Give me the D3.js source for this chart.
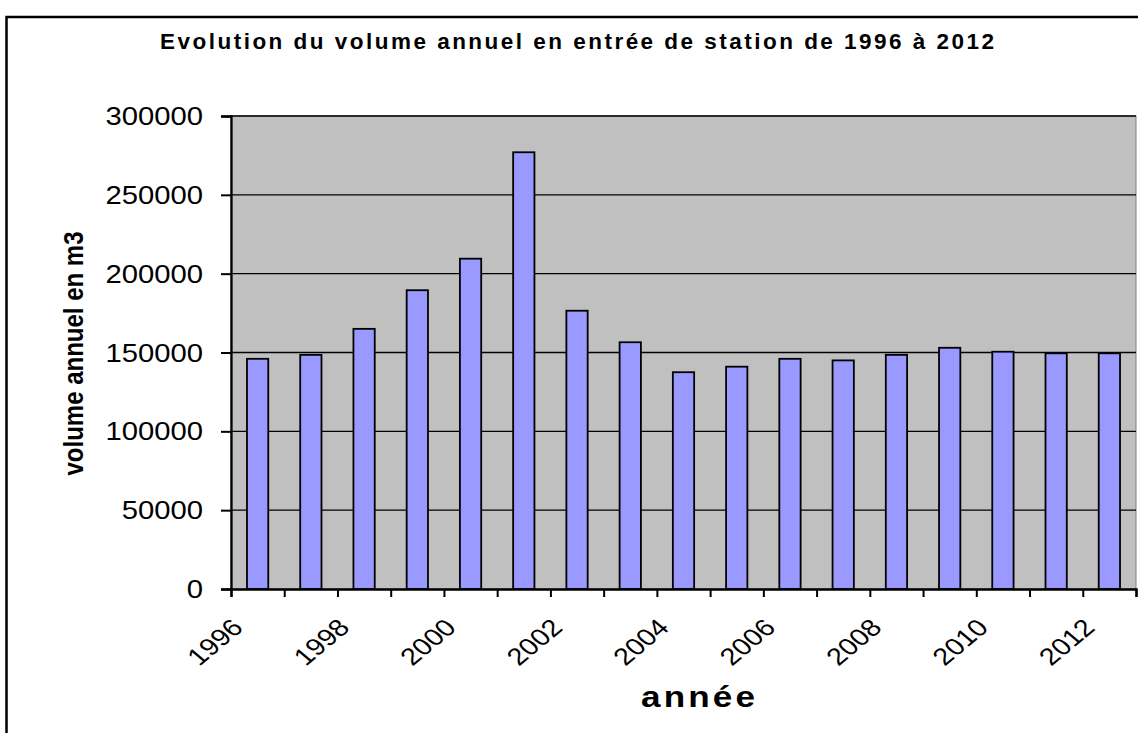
<!DOCTYPE html>
<html>
<head>
<meta charset="utf-8">
<script src="https://cdnjs.cloudflare.com/ajax/libs/d3/7.8.5/d3.min.js"></script>
<style>
  body { margin: 0; background: #fff; }
  svg { display: block; }
  text { font-family: 'Liberation Sans', Arial, sans-serif; fill: #000; }
</style>
</head>
<body>
<svg id="chart" width="1138" height="733"></svg>
<script>
'use strict';

var years = ['1996', '1997', '1998', '1999', '2000', '2001', '2002', '2003', '2004',
	'2005', '2006', '2007', '2008', '2009', '2010', '2011', '2012'];
var volumes = [146000, 148500, 165000, 189500, 209500, 277000, 176500, 156500, 137500,
	141000, 146000, 145000, 148500, 153000, 150500, 149500, 149500];
var yTicks = [0, 50000, 100000, 150000, 200000, 250000, 300000];
var xLabels = ['1996', '1998', '2000', '2002', '2004', '2006', '2008', '2010', '2012'];

var title = 'Evolution du volume annuel en entrée de station de 1996 à 2012';
var xTitle = 'année';
var yTitle = 'volume annuel en m3';

// the original picture is stretched horizontally
var sx = 1.17;

var svg = d3.select('#chart');

var plotLeft = 231, plotRight = 1136, plotTop = 116, plotBottom = 589;

var x = d3.scaleBand()
	.domain(years)
	.range([plotLeft, plotRight])
	.paddingInner(0)
	.paddingOuter(0);

var y = d3.scaleLinear()
	.domain([0, 300000])
	.range([plotBottom, plotTop]);

// outer frame
svg.append('rect')
	.attr('x', 6.5)
	.attr('y', 17)
	.attr('width', 1160)
	.attr('height', 760)
	.attr('fill', 'none')
	.attr('stroke', '#000')
	.attr('stroke-width', 2.5);

// plot area
svg.append('rect')
	.attr('x', plotLeft)
	.attr('y', plotTop)
	.attr('width', plotRight - plotLeft)
	.attr('height', plotBottom - plotTop)
	.attr('fill', '#c0c0c0')
	.attr('stroke', '#808080')
	.attr('stroke-width', 1);

// gridlines
svg.append('g')
	.selectAll('line')
	.data(yTicks.filter(function (d) { return d > 0; }))
	.enter()
	.append('line')
	.attr('x1', plotLeft)
	.attr('x2', plotRight)
	.attr('y1', function (d) { return y(d); })
	.attr('y2', function (d) { return y(d); })
	.attr('stroke', '#000')
	.attr('stroke-width', 1.3);

// bars
var bw = x.bandwidth() / 2.5;
svg.append('g')
	.selectAll('rect')
	.data(volumes)
	.enter()
	.append('rect')
	.attr('x', function (d, i) { return x(years[i]) + x.bandwidth() / 2 - bw / 2; })
	.attr('y', function (d) { return y(d); })
	.attr('width', bw)
	.attr('height', function (d) { return y(0) - y(d); })
	.attr('fill', '#9999ff')
	.attr('stroke', '#000')
	.attr('stroke-width', 1.8);

// y axis
var yAxis = d3.axisLeft(y)
	.tickValues(yTicks)
	.tickSize(10)
	.tickFormat(function (d) { return d; });

var gy = svg.append('g')
	.attr('transform', 'translate(' + plotLeft + ',0)')
	.call(yAxis);
gy.select('.domain').attr('stroke', '#000').attr('stroke-width', 2.3);
gy.selectAll('.tick line').attr('stroke', '#000').attr('stroke-width', 2);
gy.selectAll('.tick text').remove();

svg.append('g')
	.selectAll('text')
	.data(yTicks)
	.enter()
	.append('text')
	.attr('transform', function (d) { return 'translate(203,' + (y(d) + 9) + ') scale(' + sx + ',1)'; })
	.attr('text-anchor', 'end')
	.attr('font-size', 25)
	.text(function (d) { return d; });

// x axis, ticks between categories
var xb = d3.scaleLinear().domain([0, years.length]).range([plotLeft, plotRight]);
var gx = svg.append('g')
	.attr('transform', 'translate(0,' + plotBottom + ')')
	.call(d3.axisBottom(xb).ticks(years.length).tickSize(8).tickFormat(''));
gx.select('.domain').attr('stroke', '#000').attr('stroke-width', 2.3);
gx.selectAll('.tick line').attr('stroke', '#000').attr('stroke-width', 2);

svg.append('g')
	.selectAll('text')
	.data(xLabels)
	.enter()
	.append('text')
	.attr('transform', function (d) {
		var cx = x(d) + x.bandwidth() / 2;
		return 'translate(' + (cx - 13) + ',629) scale(1.2,1) rotate(-45)';
	})
	.attr('text-anchor', 'end')
	.attr('font-size', 24)
	.text(function (d) { return d; });

// titles
svg.append('text')
	.attr('transform', 'translate(577,49)')
	.attr('text-anchor', 'middle')
	.attr('font-size', 22.5)
	.attr('font-weight', 'bold')
	.attr('textLength', 834)
	.attr('lengthAdjust', 'spacing')
	.text(title);

svg.append('text')
	.attr('transform', 'translate(698,707) scale(' + sx + ',1)')
	.attr('text-anchor', 'middle')
	.attr('font-size', 30)
	.attr('font-weight', 'bold')
	.attr('textLength', 114 / sx)
	.attr('lengthAdjust', 'spacing')
	.text(xTitle);

svg.append('text')
	.attr('transform', 'translate(83,353.5) scale(' + sx + ',1) rotate(-90)')
	.attr('text-anchor', 'middle')
	.attr('font-size', 24)
	.attr('font-weight', 'bold')
	.text(yTitle);
</script>
</body>
</html>
